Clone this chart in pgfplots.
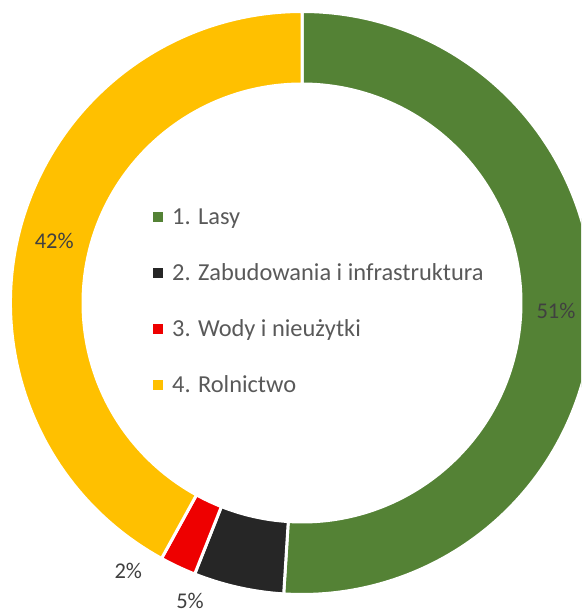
\documentclass[border=0pt]{standalone}
\usepackage{pgfplots}
\pgfplotsset{compat=1.18}
\usepackage{fontspec}
\setmainfont{Carlito}
\definecolor{cLasy}{HTML}{548235}
\definecolor{cZab}{HTML}{262626}
\definecolor{cWody}{HTML}{EE0000}
\definecolor{cRol}{HTML}{FFC000}
\definecolor{legtext}{HTML}{595959}
\definecolor{labtext}{HTML}{404040}
% sector: #1 cumulative share before (%), #2 share (%), #3 colour
\newcommand\sector[3]{%
  \fill[#3, draw=white, line width=3pt, line join=miter]
    (axis cs:302,312) ++({90-3.6*(#1)}:291.5pt)
    arc[start angle={90-3.6*(#1)}, end angle={90-3.6*(#1+#2)}, radius=291.5pt]
    -- ++({90-3.6*(#1+#2)}:-72.5pt)
    arc[start angle={90-3.6*(#1+#2)}, end angle={90-3.6*(#1)}, radius=219pt]
    -- cycle;}
\begin{document}
\begin{tikzpicture}
\useasboundingbox (0,0) rectangle (581pt,615pt);
\clip (0,0) rectangle (581pt,615pt);
\begin{axis}[
  at={(0,0)}, anchor=south west,
  scale only axis, width=581pt, height=615pt,
  xmin=0, xmax=581, ymin=0, ymax=615,
  hide axis, clip=false,
]
% data: 1. Lasy 51, 2. Zabudowania 5, 3. Wody 2, 4. Rolnictwo 42
\sector{0}{51}{cLasy}
\sector{51}{5}{cZab}
\sector{56}{2}{cWody}
\sector{58}{42}{cRol}
% data labels
\begin{scope}[every node/.style={font=\fontsize{22.5}{26}\selectfont, text=labtext, anchor=base, inner sep=0pt}]
\node at (axis cs:556,296.7) {51\%};
\node at (axis cs:54.2,366.7) {42\%};
\node at (axis cs:128.3,36.7) {2\%};
\node at (axis cs:190,6) {5\%};
\end{scope}
% legend
\begin{scope}[every node/.style={font=\fontsize{24.4}{28}\selectfont, text=legtext, anchor=base west, inner sep=0pt}]
\fill[cLasy] (axis cs:153,392.5) rectangle (axis cs:163,402.5);
\node at (axis cs:172,390.7) {1. Lasy};
\fill[cZab] (axis cs:153,337) rectangle (axis cs:163,347);
\node at (axis cs:172,334.3) {2. Zabudowania i infrastruktura};
\fill[cWody] (axis cs:153,281) rectangle (axis cs:163,291);
\node at (axis cs:172,278.3) {3. Wody i nieużytki};
\fill[cRol] (axis cs:153,225) rectangle (axis cs:163,235);
\node at (axis cs:172,222.3) {4. Rolnictwo};
\end{scope}
\end{axis}
\end{tikzpicture}
\end{document}
